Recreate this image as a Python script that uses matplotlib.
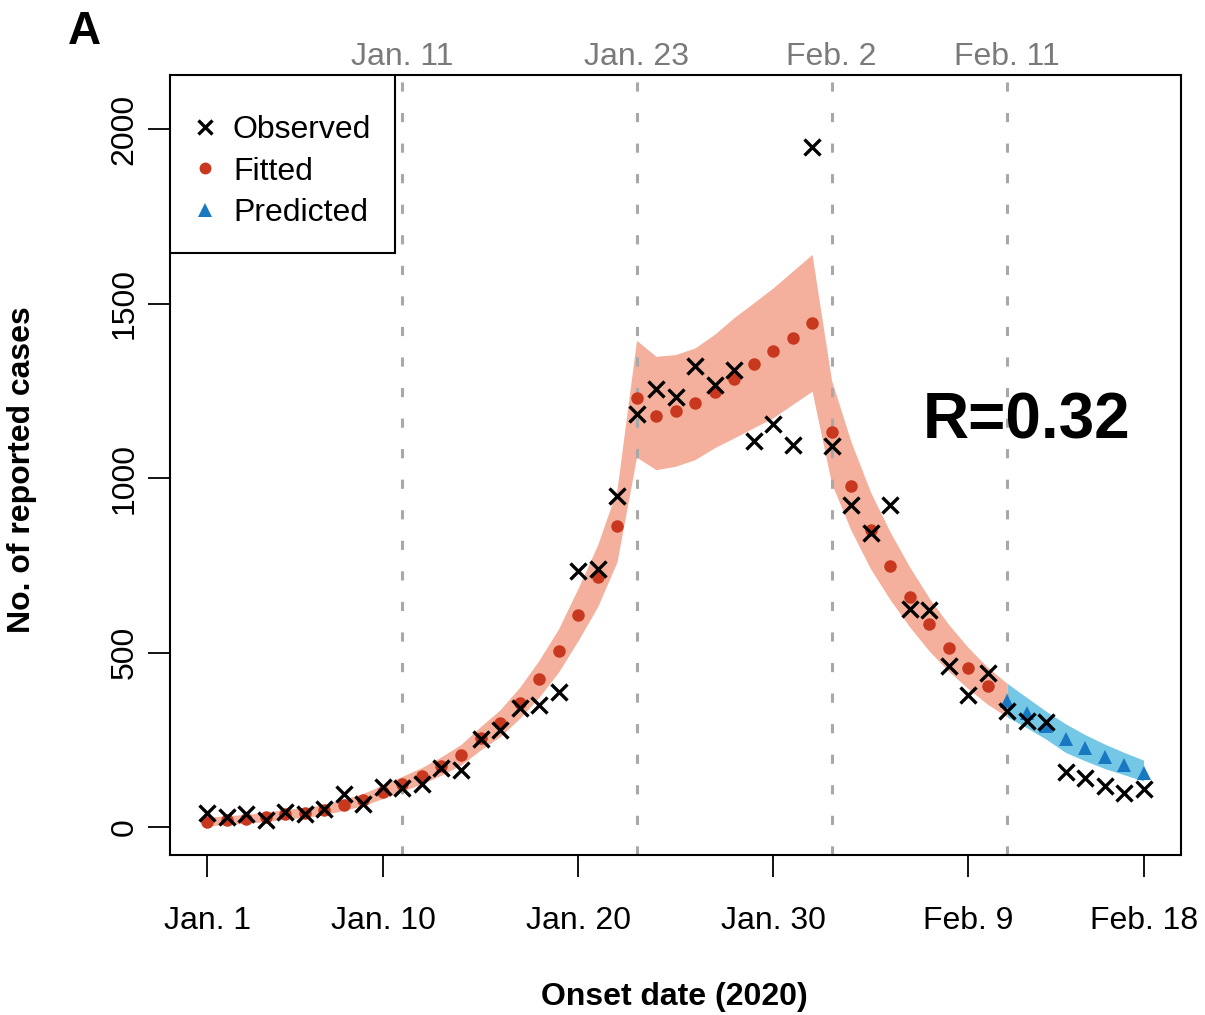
import numpy as np
import matplotlib
matplotlib.use("Agg")
import matplotlib.pyplot as plt
from matplotlib.patches import Rectangle

plt.rcParams['font.family'] = ['Liberation Sans', 'DejaVu Sans']

# day index 0 = Jan. 1, 2020
days = np.arange(49)
fit_days = np.arange(41)
band_days = np.arange(42)
pred_days = np.arange(41, 49)

observed = [40, 30, 39, 20, 44, 38, 52, 96, 65, 114, 111, 123, 168, 165, 252, 278, 340, 350, 386, 733,
            739, 948, 1184, 1256, 1233, 1321, 1268, 1311, 1106, 1156, 1096, 1948, 1091, 924, 843, 924,
            626, 623, 463, 378, 441, 332, 304, 300, 159, 142, 117, 98, 110]

fitted = [15, 20, 23, 29, 37, 41, 50, 64, 79, 101, 124, 147, 175, 207, 254, 297, 355, 424, 505, 608,
          718, 862, 1230, 1179, 1192, 1216, 1248, 1285, 1326, 1364, 1402, 1445, 1132, 977, 850, 749,
          660, 581, 514, 456, 405]
fit_lower = [3, 8, 11, 16, 23, 28, 36, 48, 62, 82, 103, 124, 149, 178, 221, 259, 311, 372, 444, 534,
             631, 760, 1060, 1024, 1034, 1053, 1087, 1115, 1144, 1173, 1211, 1249, 985, 850, 740, 652,
             574, 505, 447, 397, 352, 316]
fit_upper = [28, 33, 36, 43, 51, 56, 65, 80, 97, 121, 146, 171, 202, 237, 288, 336, 400, 478, 568, 684,
             808, 968, 1395, 1349, 1354, 1373, 1412, 1460, 1502, 1545, 1593, 1641, 1280, 1104, 960, 846,
             746, 657, 581, 515, 458, 412]

predicted = [360, 326, 290, 252, 226, 200, 178, 154]
pred_lower = [316, 285, 252, 214, 190, 168, 150, 132]
pred_upper = [412, 372, 332, 296, 265, 238, 214, 192]

tick_days = [0, 9, 19, 29, 39, 48]
tick_labels = ["Jan. 1", "Jan. 10", "Jan. 20", "Jan. 30", "Feb. 9", "Feb. 18"]
event_days = [10, 22, 32, 41]
event_labels = ["Jan. 11", "Jan. 23", "Feb. 2", "Feb. 11"]
r_text = "R=0.32"

fig = plt.figure(figsize=(12.05, 10.15), dpi=100)
ax = fig.add_axes([0.1411, 0.1576, 0.839, 0.7685])

ax.fill_between(band_days, fit_lower, fit_upper, color='#F4B09C', lw=0, zorder=1)
ax.fill_between(pred_days, pred_lower, pred_upper, color='#74C7E5', lw=0, zorder=1)

for d in event_days:
    ax.axvline(d, color='#A8A8A8', lw=2.2, ls=(0, (3, 7)), zorder=2)

obs = ax.plot(days, observed, ls='none', marker='x', ms=11, mew=2.4, color='black', zorder=4,
              label='Observed')[0]
fit = ax.plot(fit_days, fitted, ls='none', marker='o', ms=9, mew=0, color='#C8381F', zorder=3,
              label='Fitted')[0]
pred = ax.plot(pred_days, predicted, ls='none', marker='^', ms=10.5, mew=0, color='#1878C2', zorder=3,
               label='Predicted')[0]

ax.set_xlim(-1.92, 49.92)
ax.set_ylim(-80, 2155)
ax.set_xticks(tick_days, tick_labels)
ax.set_yticks([0, 500, 1000, 1500, 2000])
ax.tick_params(axis='x', length=16, width=1.3, pad=21, labelsize=23)
ax.tick_params(axis='y', length=16, width=1.3, pad=6, labelsize=23, labelrotation=90)
for lab in ax.get_yticklabels():
    lab.set_va('center')
for s in ax.spines.values():
    s.set_linewidth(1.5)

top = ax.secondary_xaxis('top')
top.set_xticks(event_days, event_labels)
top.tick_params(length=0, pad=2.5, labelsize=23, labelcolor='#7A7A7A')
top.spines['top'].set_visible(False)

# legend box in the top-left corner, drawn separately so its size can be set
ax.add_patch(Rectangle((0, 0.7718), 0.2226, 0.2282, transform=ax.transAxes, fill=True,
                       facecolor='white', edgecolor='black', lw=1.5, zorder=5))
leg = ax.legend(handles=[obs, fit, pred], loc='upper left', bbox_to_anchor=(0.0218, 0.9487),
                borderaxespad=0, borderpad=0, fontsize=23, frameon=False, handlelength=0.8,
                handletextpad=0.48, labelspacing=0.36, markerscale=0.95)
leg.set_zorder(6)

ax.text(36.7, 1162, r_text, ha='left', va='center', fontsize=46, fontweight='bold')

fig.text(0.0183, 0.537, "No. of reported cases", rotation=90, ha='center', va='center',
         fontsize=23, fontweight='bold')
fig.text(0.56, 0.018, "Onset date (2020)", ha='center', va='center', fontsize=23, fontweight='bold')
fig.text(0.056, 0.957, "A", ha='left', va='baseline', fontsize=33, fontweight='bold')

fig.savefig("out.png", dpi=100)
